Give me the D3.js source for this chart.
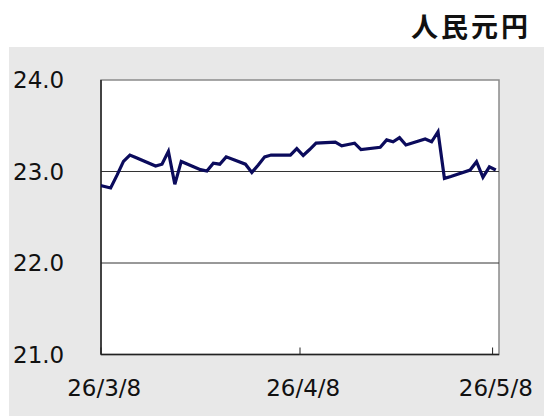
<!DOCTYPE html>
<html>
<head>
<meta charset="utf-8">
<script src="https://cdn.jsdelivr.net/npm/d3@7"></script>
<style>
  body { margin: 0; background: #fff; }
  svg { display: block; }
</style>
</head>
<body>
<script>
// 人民元円 daily rate, weekdays only

var dates = [
  "2026-03-06","2026-03-09","2026-03-10","2026-03-11","2026-03-12","2026-03-13",
  "2026-03-16","2026-03-17","2026-03-18","2026-03-19","2026-03-20",
  "2026-03-23","2026-03-24","2026-03-25","2026-03-26","2026-03-27",
  "2026-03-30","2026-03-31","2026-04-01","2026-04-02","2026-04-03",
  "2026-04-06","2026-04-07","2026-04-08","2026-04-09","2026-04-10",
  "2026-04-13","2026-04-14","2026-04-15","2026-04-16","2026-04-17",
  "2026-04-20","2026-04-21","2026-04-22","2026-04-23","2026-04-24",
  "2026-04-27","2026-04-28","2026-04-29","2026-04-30","2026-05-01",
  "2026-05-04","2026-05-05","2026-05-06","2026-05-07","2026-05-08"
];
var rates = [
  22.87, 22.82, 22.96, 23.11, 23.18, 23.15,
  23.06, 23.08, 23.22, 22.86, 23.11,
  23.02, 23.005, 23.09, 23.08, 23.16,
  23.08, 22.99, 23.07, 23.16, 23.18,
  23.18, 23.25, 23.175, 23.24, 23.31,
  23.32, 23.28, 23.295, 23.31, 23.24,
  23.265, 23.345, 23.325, 23.37, 23.29,
  23.355, 23.325, 23.435, 22.925, 22.945,
  23.016, 23.107, 22.937, 23.05, 23.016
];
var yTicks = [21, 22, 23, 24];
var xTickDates = ["2026-03-08", "2026-04-08", "2026-05-08"];
var xTickLabels = ["26/3/8", "26/4/8", "26/5/8"];
var title = "人民元円";

var W = 544, H = 417;
var pLeft = 101, pRight = 499, pTop = 80, pBottom = 354.5;
var parse = d3.timeParse("%Y-%m-%d");

var svg = d3.select("body").append("svg")
	.attr("width", W)
	.attr("height", H);

// gray panel
svg.append("rect")
	.attr("x", 9).attr("y", 47)
	.attr("width", W - 9).attr("height", 369)
	.attr("fill", "#e8e8e8");

svg.append("text")
	.attr("x", 531).attr("y", 37)
	.attr("text-anchor", "end")
	.style("font-family", "'Noto Sans CJK JP', sans-serif")
	.style("font-weight", "bold")
	.style("font-size", "27px")
	.style("letter-spacing", "3px")
	.attr("fill", "#111")
	.text(title);

var x = d3.scaleTime()
	.domain([parse("2026-03-08"), parse("2026-05-09")])
	.range([pLeft, pRight]);
var y = d3.scaleLinear()
	.domain([21, 24])
	.range([pBottom, pTop]);

// mid-day position, like a date axis with points between ticks
function xMid(d) { return x(d3.timeHour.offset(d, 12)); }

svg.append("rect")
	.attr("x", pLeft).attr("y", pTop)
	.attr("width", pRight - pLeft).attr("height", pBottom - pTop)
	.attr("fill", "#fff")
	.attr("stroke", "#8a8a8a")
	.attr("stroke-width", 1.5);

svg.append("clipPath").attr("id", "plot")
	.append("rect")
	.attr("x", pLeft).attr("y", pTop)
	.attr("width", pRight - pLeft).attr("height", pBottom - pTop);

// gridlines
svg.selectAll(".grid")
	.data(yTicks.filter(function(v){ return v > 21 && v < 24; }))
	.enter()
	.append("line")
	.attr("x1", pLeft).attr("x2", pRight)
	.attr("y1", function(d){ return y(d); })
	.attr("y2", function(d){ return y(d); })
	.attr("stroke", "#333")
	.attr("stroke-width", 1);

// y labels
svg.selectAll(".ylab")
	.data(yTicks)
	.enter()
	.append("text")
	.attr("x", 13)
	.attr("y", function(d){ return y(d) + 8; })
	.style("font-family", "'DejaVu Sans', Verdana, sans-serif")
	.style("font-size", "23px")
	.attr("fill", "#111")
	.text(function(d){ return d3.format(".1f")(d); });

// axes
svg.append("line")
	.attr("x1", pLeft).attr("x2", pLeft)
	.attr("y1", pTop).attr("y2", pBottom)
	.attr("stroke", "#222").attr("stroke-width", 1.5);
svg.append("line")
	.attr("x1", pLeft).attr("x2", pRight)
	.attr("y1", pBottom).attr("y2", pBottom)
	.attr("stroke", "#222").attr("stroke-width", 1.5);

var tickD = xTickDates.map(parse);
svg.selectAll(".xtick")
	.data(tickD)
	.enter()
	.append("line")
	.attr("x1", function(d){ return x(d); })
	.attr("x2", function(d){ return x(d); })
	.attr("y1", pBottom).attr("y2", pBottom - 7)
	.attr("stroke", "#222").attr("stroke-width", 1);

svg.selectAll(".xlab")
	.data(tickD)
	.enter()
	.append("text")
	.attr("x", function(d){ return xMid(d); })
	.attr("y", 396)
	.attr("text-anchor", "middle")
	.style("font-family", "'DejaVu Sans', Verdana, sans-serif")
	.style("font-size", "23px")
	.attr("fill", "#111")
	.text(function(d, i){ return xTickLabels[i]; });

var data = dates.map(function(d, i){ return {date: parse(d), value: rates[i]}; });

var line = d3.line()
	.x(function(d){ return xMid(d.date); })
	.y(function(d){ return y(d.value); });

svg.append("path")
	.datum(data)
	.attr("clip-path", "url(#plot)")
	.attr("d", line)
	.attr("fill", "none")
	.attr("stroke", "#0b0b5c")
	.attr("stroke-width", 3.2)
	.attr("stroke-linejoin", "miter");
</script>
</body>
</html>
